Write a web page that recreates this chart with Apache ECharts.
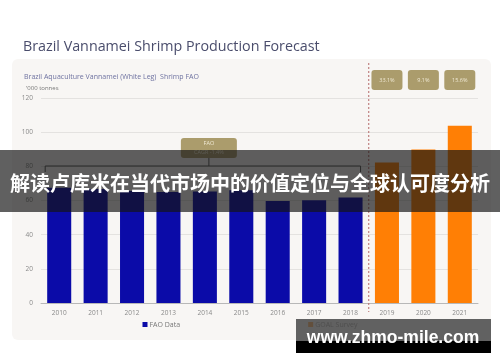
<!DOCTYPE html>
<html>
<head>
<meta charset="utf-8">
<script src="https://cdn.jsdelivr.net/npm/echarts@6/dist/echarts.min.js"></script>
<style>
html,body{margin:0;padding:0;background:#fff;}
#c{width:500px;height:362px;}
</style>
</head>
<body>
<div id="c"></div>
<script>
var categories = ['2010','2011','2012','2013','2014','2015','2016','2017','2018','2019','2020','2021'];
var faoData = [67.5, 66.7, 65.6, 65.0, 65.2, 66.0, 59.7, 60.1, 61.8, null, null, null];
var goalData = [null, null, null, null, null, null, null, null, null, 82.2, 89.9, 103.8];
var growthLabels = ['33.1%', '9.1%', '15.6%'];
var growthCats = ['2019', '2020', '2021'];
var cagrText = ['FAO', 'CAGR -1.4%'];
var yTicks = [0, 20, 40, 60, 80, 100, 120];

var chart = echarts.init(document.getElementById('c'), null, {renderer: 'canvas'});
var font = 'Open Sans';
var option = {
  animation: false,
  backgroundColor: '#ffffff',
  title: [
    {text: 'Brazil Vannamei Shrimp Production Forecast', left: 18, top: 35,
     textStyle: {fontFamily: font, fontSize: 14.3, fontWeight: 'normal', color: '#4a4d6c'}},
    {text: 'Brazil Aquaculture Vannamei (White Leg)  Shrimp FAO', left: 19, top: 68,
     textStyle: {fontFamily: font, fontSize: 7, fontWeight: 'normal', color: '#6e72a0'}},
    {text: "'000 tonnes", left: 21, top: 80,
     textStyle: {fontFamily: font, fontSize: 6, fontWeight: 'normal', color: '#777777'}}
  ],
  grid: {left: 41, right: 22, top: 98, bottom: 59},
  legend: {
    bottom: 29, left: 'center', icon: 'rect', itemWidth: 5, itemHeight: 5, itemGap: 128,
    textStyle: {fontFamily: font, fontSize: 7, color: '#777777', padding: [0,0,0,-3]},
    data: ['FAO Data', 'GOAL Survey']
  },
  xAxis: {
    type: 'category', data: categories,
    axisLine: {lineStyle: {color: '#b8b8b8', width: 1}},
    axisTick: {show: false},
    axisLabel: {fontFamily: font, fontSize: 6.5, color: '#8a8a8a', margin: 7}
  },
  yAxis: {
    type: 'value', min: 0, max: 120, interval: 20,
    axisLine: {show: false}, axisTick: {show: false},
    axisLabel: {fontFamily: font, fontSize: 6.5, color: '#8a8a8a', margin: 8},
    splitLine: {lineStyle: {color: '#e4e2e0', width: 1}}
  },
  series: [
    {name: 'FAO Data', type: 'bar', stack: 's', data: faoData, barWidth: '66%',
     itemStyle: {color: '#0b0ba8'}, z: 3},
    {name: 'GOAL Survey', type: 'bar', stack: 's', data: goalData, barWidth: '66%',
     itemStyle: {color: '#ff7f05'}, z: 3}
  ]
};
chart.setOption(option);

function px(cat, v) { return chart.convertToPixel({xAxisIndex: 0, yAxisIndex: 0}, [cat, v]); }
var band = px('2011', 0)[0] - px('2010', 0)[0];
var barW = band * 0.66;
var g = [];
// panel background
g.push({type: 'rect', shape: {x: 12, y: 59, width: 479, height: 281, r: 6}, style: {fill: '#f8f6f4'}, z: -10, silent: true});
// dashed divider
var xd = (px('2018', 0)[0] + px('2019', 0)[0]) / 2;
g.push({type: 'line', shape: {x1: xd, y1: 63, x2: xd, y2: 312}, style: {stroke: '#b46a6a', lineWidth: 1, lineDash: [2, 2]}, z: 5});
// growth boxes
for (var i = 0; i < growthCats.length; i++) {
  var cx = px(growthCats[i], 0)[0];
  g.push({type: 'rect', shape: {x: cx - 15.5, y: 70, width: 31, height: 20, r: 3}, style: {fill: '#ab9c6c'}, z: 6});
  g.push({type: 'text', x: cx, y: 80, style: {text: growthLabels[i], fill: '#efe8d2', font: '5.5px "Open Sans"', align: 'center', verticalAlign: 'middle'}, z: 7});
}
// CAGR bracket
var bx1 = px('2010', 0)[0] - barW / 2 - 2;
var bx2 = px('2018', 0)[0] + barW / 2 - 2;
var by = 166;
g.push({type: 'polyline', shape: {points: [[bx1, by + 6], [bx1, by], [bx2, by], [bx2, by + 6]]}, style: {stroke: '#555555', lineWidth: 1, fill: null}, z: 5});
var bmid = px('2014', 0)[0] + 4;
g.push({type: 'line', shape: {x1: bmid, y1: by, x2: bmid, y2: 158}, style: {stroke: '#555555', lineWidth: 1}, z: 5});
g.push({type: 'rect', shape: {x: bmid - 28, y: 138, width: 56, height: 20, r: 3}, style: {fill: '#ab9c6c'}, z: 6});
g.push({type: 'text', x: bmid, y: 143.5, style: {text: cagrText[0], fill: '#efe8d2', font: '5.5px "Open Sans"', align: 'center', verticalAlign: 'middle'}, z: 7});
g.push({type: 'text', x: bmid, y: 152, style: {text: cagrText[1], fill: '#efe8d2', font: '5.5px "Open Sans"', align: 'center', verticalAlign: 'middle'}, z: 7});
// overlay banner
g.push({type: 'rect', shape: {x: 0, y: 150, width: 500, height: 62}, style: {fill: 'rgba(20,20,20,0.68)'}, z: 20});
g.push({type: 'text', x: 250, y: 183, style: {text: '解读卢库米在当代市场中的价值定位与全球认可度分析', fill: '#ffffff', font: 'bold 20px "Noto Sans CJK SC"', align: 'center', verticalAlign: 'middle'}, z: 21});
// watermark
g.push({type: 'rect', shape: {x: 296, y: 319, width: 195, height: 23}, style: {fill: 'rgba(70,70,70,0.85)'}, z: 20});
g.push({type: 'rect', shape: {x: 296, y: 341, width: 195, height: 12}, style: {fill: '#000000'}, z: 20});
g.push({type: 'text', x: 393, y: 338, style: {text: 'www.zhmo-mile.com', fill: '#ffffff', font: 'bold 17.5px "Liberation Sans"', align: 'center', verticalAlign: 'middle'}, z: 21});
chart.setOption({graphic: g});
</script>
</body>
</html>
